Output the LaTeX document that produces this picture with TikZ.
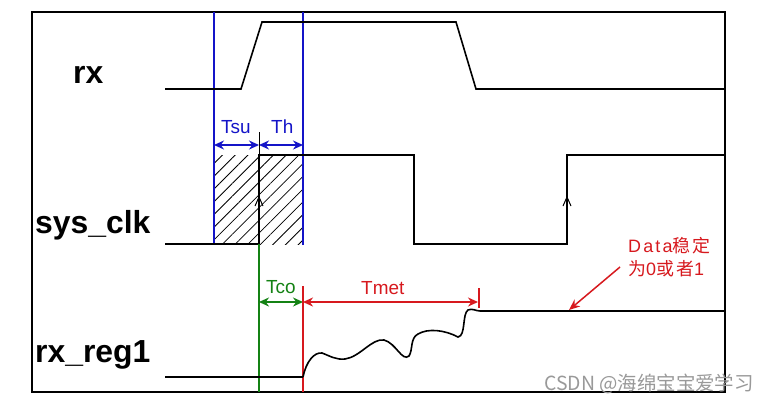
\documentclass[tikz,border=0pt]{standalone}
\usepackage{fontspec}
\setmainfont{Liberation Sans}
\newfontfamily\cjk{Noto Sans CJK SC}
\newfontfamily\notefont[LetterSpace=12]{Liberation Sans}
\newfontfamily\notecjk[LetterSpace=12]{Noto Sans CJK SC}
\usetikzlibrary{arrows.meta,positioning,patterns.meta}
\definecolor{tblue}{RGB}{20,20,200}
\definecolor{tgreen}{RGB}{20,130,20}
\definecolor{tred}{RGB}{215,25,30}

\begin{document}
\begin{tikzpicture}[x=1bp,y=-1bp,
sig/.style={line width=1.6bp,black},
vbar/.style={line width=1.5bp},
dim/.style={{Stealth[length=10bp,width=9bp]}-{Stealth[length=10bp,width=9bp]},line width=1.5bp},
signame/.style={font=\fontsize{32}{34}\selectfont\bfseries,anchor=base west,inner sep=0},
tlab/.style={font=\fontsize{19}{21}\selectfont,anchor=base west,inner sep=0},
every node/.style={inner sep=0}]
\useasboundingbox (0,0) rectangle (768,403);
\fill[white] (0,0) rectangle (768,403);
% frame
\draw[line width=1.8bp] (32,12) rectangle (725,392);
% signal names
\node[signame] (Nrx) at (73,83) {rx};
\node[signame] (Nclk) at (35,233) {sys\_clk};
\node[signame] (Nreg) at (35,362) {rx\_reg1};
% setup/hold window
\fill[pattern={Lines[angle=45,distance=9bp,line width=0.8bp]}] (214,155) rectangle (303,244);
\coordinate (S1) at (214,12); \coordinate (S2) at (214,245);
\coordinate (H1) at (303,12); \coordinate (H2) at (303,245);
\draw[vbar,tblue] (S1)--(S2);
\draw[vbar,tblue] (H1)--(H2);
\coordinate (Sa) at (214,145); \coordinate (Mb) at (259,145); \coordinate (Ha) at (303,145);
\draw[dim,tblue] (Sa)--(Mb);
\draw[dim,tblue] (Mb)--(Ha);
\draw[line width=1bp] (259,132)--(259,155);
\node[tlab,tblue] (Tsu) at (221,133) {Tsu};
\node[tlab,tblue] (Th) at (271,133) {Th};
% rx
\draw[sig] (165,89)--(241,89)--(262,22)--(456,22)--(476,89)--(725,89);
% sys_clk
\draw[sig] (165,244)--(259,244)--(259,155)--(414,155)--(414,244)--(567,244)--(567,155)--(725,155);
\draw[line width=1bp] (255,206)--(259,197)--(263,206);
\draw[line width=1bp] (563,206)--(567,197)--(571,206);
% Tco
\coordinate (G1) at (259,244); \coordinate (G2) at (259,392);
\draw[vbar,tgreen] (G1)--(G2);
\coordinate (Ga) at (259,302); \coordinate (Ra) at (303,302);
\draw[dim,tgreen] (Ga)--(Ra);
\node[tlab,tgreen] (Tco) at (266,293) {Tco};
% Tmet
\coordinate (R1) at (303,286); \coordinate (R2) at (303,392);
\draw[vbar,tred] (R1)--(R2);
\coordinate (Ea) at (478,302);
\draw[dim,tred] (Ra)--(Ea);
\draw[vbar,tred] (479,288)--(479,308);
\node[tlab,tred] (Tmet) at (361,294) {Tmet};
% rx_reg1
\draw[sig] (165,377)--(303,377);
\draw[sig] (303,377) .. controls (306,362) and (314,352) .. (322,353)
  .. controls (330,356) and (336,360) .. (345,359)
  .. controls (360,357) and (372,338) .. (384,340)
  .. controls (396,343) and (402,362) .. (409,356)
  .. controls (413,350) and (410,338) .. (418,334)
  .. controls (428,328) and (445,330) .. (458,337)
  .. controls (466,336) and (462,314) .. (468,310)
  .. controls (472,308) and (476,311) .. (480,311)
  -- (725,311);
% note
\node[tlab,tred,font=\notefont\fontsize{18}{20}\selectfont] (Note) at (628,252) {Data{\notecjk 稳定}};
\node[tlab,tred,font=\notefont\fontsize{18}{20}\selectfont] (Note2) at (628,275) {{\notecjk 为}0{\notecjk 或者}1};
\coordinate (Pt) at (569,310);
\draw[tred,line width=1.5bp,-{Stealth[length=11bp,width=9bp]}] (620,267)--(Pt);
% watermark
\node[anchor=base west,text=black!40,font=\cjk\fontsize{19.5}{21}\selectfont] (Wm) at (544,390) {CSDN @海绵宝宝爱学习};
\end{tikzpicture}
\end{document}
